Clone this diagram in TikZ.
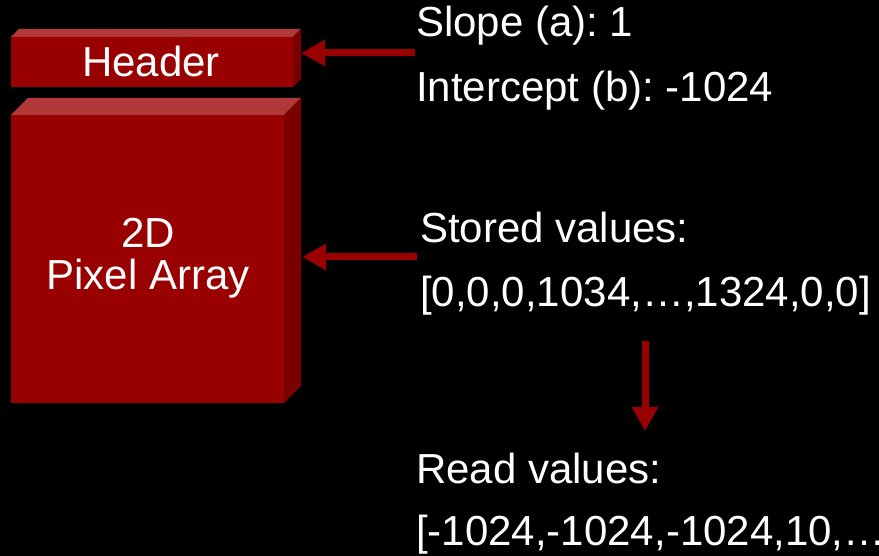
\documentclass[tikz,border=0pt]{standalone}
\usepackage{fontspec}
\setmainfont{Liberation Sans}
\usetikzlibrary{arrows.meta}
\definecolor{frontred}{RGB}{153,0,0}
\definecolor{topred}{RGB}{176,56,56}
\definecolor{sidered}{RGB}{122,0,0}
\tikzset{
  front/.style={fill=frontred, draw=none, inner sep=0pt, anchor=north west},
  topface/.style={fill=topred, draw=none},
  sideface/.style={fill=sidered, draw=none},
  lbl/.style={text=white, font=\fontsize{42}{50}\selectfont\frenchspacing, inner sep=0pt, anchor=base west},
  boxlbl/.style={text=white, font=\fontsize{42}{50}\selectfont\frenchspacing, inner sep=0pt, anchor=base},
  conn/.style={draw=frontred, line width=7pt, -{Triangle[length=24pt,width=25pt]}}
}
\begin{document}
\begin{tikzpicture}[x=1pt,y=-1pt]
\fill[black] (0,0) rectangle (879,556);
\useasboundingbox (0,0) rectangle (879,556);
% Header box
\fill[topface] (11,37) -- (19,29) -- (301,29) -- (293,37) -- cycle;
\fill[sideface] (293,37) -- (301,29) -- (301,79) -- (293,87) -- cycle;
\node[front, minimum width=282pt, minimum height=50pt] (hdr) at (11,37) {};
\node[boxlbl] (hdrtxt) at (151,77) {Header};
\coordinate (hdrtip) at (301,53);
% Pixel array box
\fill[topface] (11,115) -- (28,98) -- (301,98) -- (284,115) -- cycle;
\fill[sideface] (284,115) -- (301,98) -- (301,386) -- (284,403) -- cycle;
\node[front, minimum width=273pt, minimum height=288pt] (pix) at (11,115) {};
\node[boxlbl] (pixtxt1) at (148,248) {2D};
\node[boxlbl] (pixtxt2) at (148,290) {Pixel Array};
\coordinate (pixtip) at (302,257);
% Texts
\node[lbl] (slope) at (416,37) {Slope (a): 1};
\node[lbl] (icpt) at (416,102) {Intercept (b): -1024};
\node[lbl] (stored) at (420,243) {Stored values:};
\node[lbl] (storedv) at (420,307) {[0,0,0,1034,\dots,1324,0,0]};
\node[lbl] (read) at (416,483) {Read values:};
\node[lbl] (readv) at (416,545) {[-1024,-1024,-1024,10,\dots};
% Connectors
\coordinate (hdrtail) at (415,53);
\coordinate (pixtail) at (417,257);
\coordinate (downtop) at (645,341);
\coordinate (downtip) at (645,431);
\draw[conn] (hdrtail) -- (hdrtip);
\draw[conn] (pixtail) -- (pixtip);
\draw[conn] (downtop) -- (downtip);
\end{tikzpicture}
\end{document}
